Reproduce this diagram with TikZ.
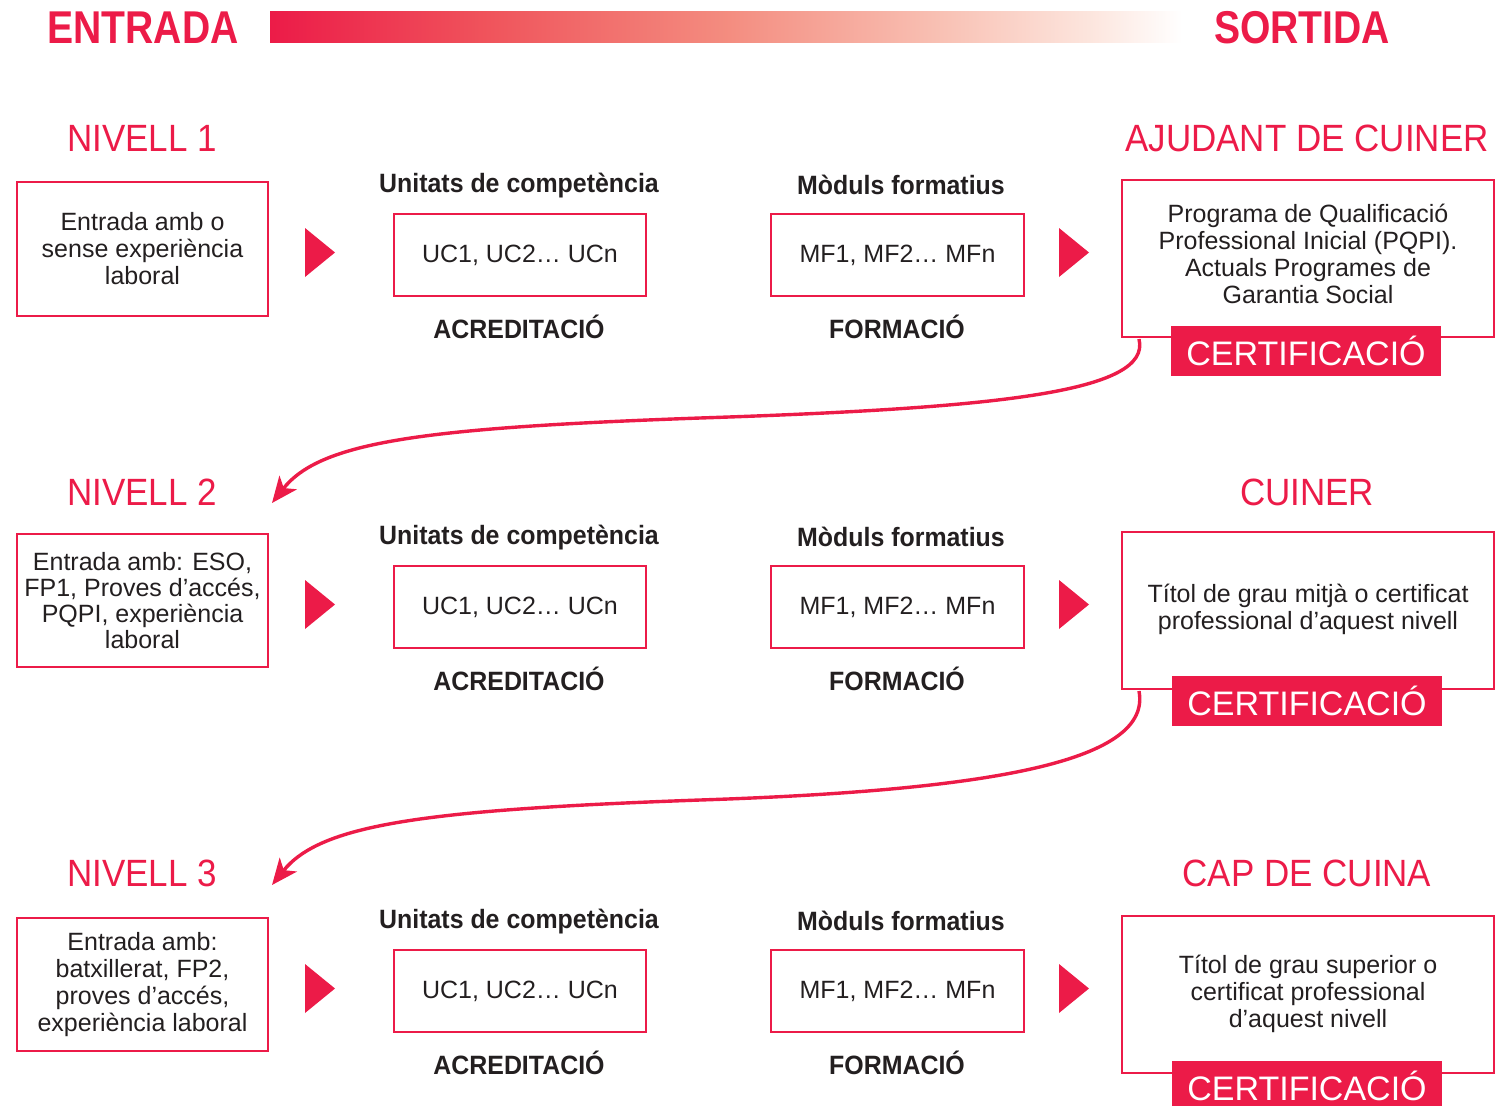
\documentclass[tikz,border=0pt]{standalone}
\usepackage{fontspec}
\setmainfont{Liberation Sans}
\newfontfamily\condfont[FakeStretch=0.85]{Liberation Sans}
\newfontfamily\labfont[FakeStretch=0.94]{Liberation Sans}
\newfontfamily\headfont[FakeStretch=0.92]{Liberation Sans}
\usetikzlibrary{arrows.meta}
\definecolor{vermell}{RGB}{236,27,72}
\definecolor{fosc}{RGB}{35,31,32}
\pgfdeclarehorizontalshading{degradat}{100bp}{
  rgb(0bp)=(0.925,0.106,0.282);
  rgb(25bp)=(0.925,0.106,0.282);
  rgb(37bp)=(0.94,0.33,0.36);
  rgb(50bp)=(0.955,0.55,0.50);
  rgb(62bp)=(0.975,0.76,0.71);
  rgb(70bp)=(0.99,0.90,0.87);
  rgb(75bp)=(1,1,1);
  rgb(100bp)=(1,1,1)}
\tikzset{
  caixa/.style={draw=vermell, line width=2.6pt, align=center, text=fosc,
    font=\fontsize{25}{27}\selectfont},
  titol/.style={text=vermell, font=\headfont\fontsize{38}{40}\selectfont},
  etiqueta/.style={text=fosc, font=\labfont\bfseries\fontsize{26.5}{28}\selectfont},
  certif/.style={fill=vermell, text=white, minimum width=270, minimum height=50,
    inner sep=0pt, font=\fontsize{34}{36}\selectfont},
  fletxa/.style={draw=vermell, line width=3.4pt, -{Stealth[length=26pt,width=22pt,inset=7pt]}}
}
\begin{document}
\begin{tikzpicture}[x=1pt,y=-1pt]
\useasboundingbox (0,0) rectangle (1497,1106);

% capcalera
\node[text=vermell, font=\condfont\bfseries\fontsize{46}{48}\selectfont] (entrada) at (143,28) {ENTRADA};
\node[text=vermell, font=\condfont\bfseries\fontsize{46}{48}\selectfont] (sortida) at (1302,28) {SORTIDA};
\shade[shading=degradat] (270,11) rectangle (1182,42);

% nivells
\node[titol] (niv1) at (142,138) {NIVELL 1};
\node[titol] (niv2) at (142,492) {NIVELL 2};
\node[titol] (niv3) at (142,873) {NIVELL 3};
\node[titol] (sort1) at (1307,138) {AJUDANT DE CUINER};
\node[titol] (sort2) at (1307,492) {CUINER};
\node[titol] (sort3) at (1307,873) {CAP DE CUINA};

% entrades
\node[caixa, minimum width=251, minimum height=134] (ent1) at (142.5,249)
  {Entrada amb o\\sense experiència\\laboral};
\node[caixa, minimum width=251, minimum height=133, font=\fontsize{25}{26}\selectfont] (ent2) at (142.5,600.5)
  {Entrada amb: ESO,\\FP1, Proves d’accés,\\PQPI, experiència\\laboral};
\node[caixa, minimum width=251, minimum height=133] (ent3) at (142.5,984.5)
  {Entrada amb:\\batxillerat, FP2,\\proves d’accés,\\experiència laboral};

% columnes del mig
\foreach \dy in {0,352,736} {
  \fill[vermell] (305,228+\dy) -- (335,252.5+\dy) -- (305,277+\dy) -- cycle;
  \fill[vermell] (1059,228+\dy) -- (1089,252.5+\dy) -- (1059,277+\dy) -- cycle;
  \node[etiqueta] at (519,186+\dy) {Unitats de competència};
  \node[caixa, minimum width=252, minimum height=82] at (520,255+\dy) {UC1, UC2… UCn};
  \node[etiqueta] at (519,327+\dy) {ACREDITACIÓ};
  \node[etiqueta] at (901,185+\dy) {Mòduls formatius};
  \node[caixa, minimum width=253, minimum height=82] at (897.5,255+\dy) {MF1, MF2… MFn};
  \node[etiqueta] at (897,327+\dy) {FORMACIÓ};
}

% sortides
\node[caixa, minimum width=372, minimum height=157] (res1) at (1308,258.5)
  {Programa de Qualificació\\Professional Inicial (PQPI).\\Actuals Programes de\\Garantia Social\\[-17pt]};
\node[caixa, minimum width=372, minimum height=157] (res2) at (1308,610.5)
  {Títol de grau mitjà o certificat\\professional d’aquest nivell\\[-20pt]};
\node[caixa, minimum width=372, minimum height=157] (res3) at (1308,994.5)
  {Títol de grau superior o\\certificat professional\\d’aquest nivell\\[-20pt]};
\node[certif] (cert1) at (1306,351) {CERTIFICACIÓ};
\node[certif] (cert2) at (1307,701) {CERTIFICACIÓ};
\node[certif] (cert3) at (1307,1086) {CERTIFICACIÓ};

% fletxes entre nivells
\coordinate (ini1) at (1139,339);
\coordinate (fi1) at (272,503);
\coordinate (ini2) at (1139,691);
\coordinate (fi2) at (272,885);
\draw[fletxa] (ini1) .. controls (1152,392) and (1000,408) .. (700,418)
  .. controls (420,428) and (320,442) .. (fi1);
\draw[fletxa] (ini2) .. controls (1152,760) and (1000,790) .. (700,800)
  .. controls (420,810) and (320,825) .. (fi2);
\end{tikzpicture}
\end{document}
